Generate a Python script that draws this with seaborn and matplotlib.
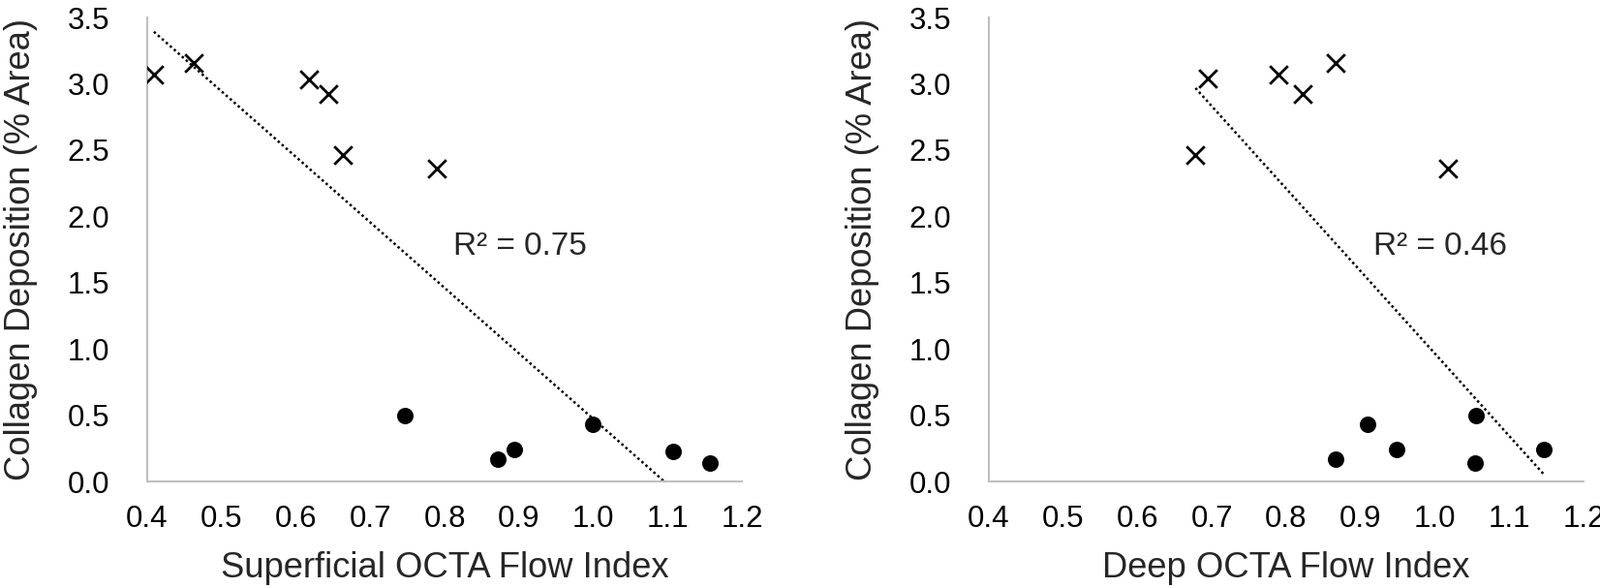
import numpy as np
import pandas as pd
import matplotlib
matplotlib.use("Agg")
import matplotlib.pyplot as plt
import seaborn as sns

# values
collagen_high = [3.07, 3.16, 3.03, 2.92, 2.46, 2.36]
collagen_low = [0.50, 0.17, 0.24, 0.43, 0.23, 0.14]

superficial_high = [0.409, 0.462, 0.617, 0.644, 0.663, 0.789]
superficial_low = [0.746, 0.872, 0.894, 0.999, 1.108, 1.157]

# deep panel: flow index with its collagen value
deep_high = [0.867, 0.678, 0.695, 0.822, 0.789, 1.018]
deep_high_y = [3.16, 2.46, 3.04, 2.92, 3.07, 2.36]
deep_low = [1.056, 0.867, 0.948, 0.910, 1.147, 1.054]
deep_low_y = [0.50, 0.17, 0.24, 0.43, 0.24, 0.14]

x_titles = ["Superficial OCTA Flow Index", "Deep OCTA Flow Index"]
r2_labels = ["R² = 0.75", "R² = 0.46"]
r2_pos = [(0.902, 1.77), (1.007, 1.77)]
y_title = "Collagen Deposition (% Area)"
x_ticks = [0.4, 0.5, 0.6, 0.7, 0.8, 0.9, 1.0, 1.1, 1.2]
y_ticks = [0.0, 0.5, 1.0, 1.5, 2.0, 2.5, 3.0, 3.5]

sup_df = pd.DataFrame({
    "flow": superficial_high + superficial_low,
    "collagen": collagen_high + collagen_low,
    "group": ["high"] * 6 + ["low"] * 6,
})
deep_df = pd.DataFrame({
    "flow": deep_high + deep_low,
    "collagen": deep_high_y + deep_low_y,
    "group": ["high"] * 6 + ["low"] * 6,
})

sns.set_style("white")
plt.rcParams["font.family"] = ["Liberation Sans", "DejaVu Sans"]

fig, axes = plt.subplots(1, 2, figsize=(16.52, 6.07), dpi=100)
fig.subplots_adjust(left=0.092, right=0.9897, bottom=0.1812, top=0.9703, wspace=0.415)

for ax, df, xt, lab, pos in zip(axes, [sup_df, deep_df], x_titles, r2_labels, r2_pos):
    hi = df[df.group == "high"]
    lo = df[df.group == "low"]
    sns.scatterplot(data=hi, x="flow", y="collagen", marker="x", color="black",
                    s=180, linewidth=2.0, ax=ax, zorder=3)
    sns.scatterplot(data=lo, x="flow", y="collagen", marker="o", color="black",
                    s=150, edgecolor="black", linewidth=0, ax=ax, zorder=3)
    sns.regplot(data=df, x="flow", y="collagen", scatter=False, ci=None, ax=ax,
                line_kws={"color": "black", "linestyle": (0, (1, 1.2)), "linewidth": 1.8})
    ax.text(pos[0], pos[1], lab, fontsize=24, ha="center", va="center")

    ax.set_xlim(0.4, 1.2)
    ax.set_ylim(0, 3.5)
    ax.set_xticks(x_ticks)
    ax.set_xticklabels([f"{v:.1f}" for v in x_ticks])
    ax.set_yticks(y_ticks)
    ax.set_yticklabels([f"{v:.1f}" for v in y_ticks])
    ax.tick_params(axis="both", length=0, labelsize=22.5, colors="black")
    ax.tick_params(axis="x", pad=17)
    ax.tick_params(axis="y", pad=28)
    ax.set_xlabel(xt, fontsize=26.2, labelpad=13)
    ax.set_ylabel(y_title, fontsize=26.2, labelpad=22)
    sns.despine(ax=ax)
    for side in ["left", "bottom"]:
        ax.spines[side].set_color("#bfbfbf")
        ax.spines[side].set_linewidth(1.5)

fig.savefig("out.png", dpi=100)
